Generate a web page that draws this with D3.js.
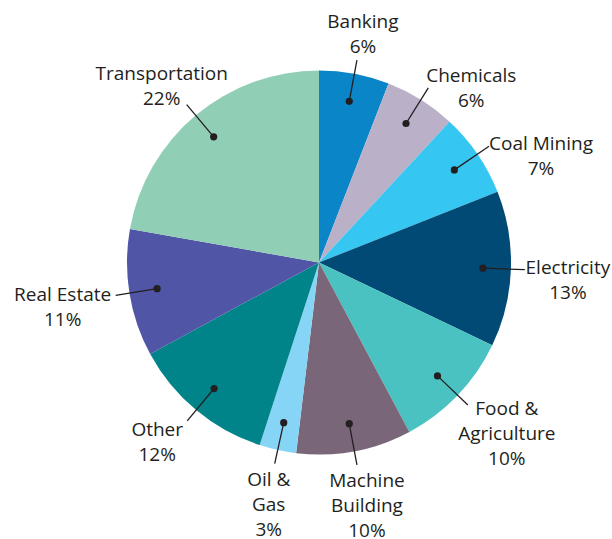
<!DOCTYPE html>
<html>
<head>
<meta charset="utf-8">
<script src="https://cdn.jsdelivr.net/npm/d3@7"></script>
<style>
  body { margin: 0; background: #fff; }
  text { font-family: "Open Sans", sans-serif; font-size: 19px; fill: #231f20; }
</style>
</head>
<body>
<svg id="chart" width="612" height="539"></svg>
<script>
// sectors, clockwise from 12 o'clock
const sectors = ['Banking', 'Chemicals', 'Coal Mining', 'Electricity', 'Food & Agriculture',
  'Machine Building', 'Oil & Gas', 'Other', 'Real Estate', 'Transportation'];
const labelLines = [['Banking'], ['Chemicals'], ['Coal Mining'], ['Electricity'], ['Food &', 'Agriculture'],
  ['Machine', 'Building'], ['Oil &', 'Gas'], ['Other'], ['Real Estate'], ['Transportation']];
const shares = [5.9, 6.0, 7.1, 13.1, 10.1, 9.7, 3.1, 12.1, 10.7, 22.2];

const colors = ['#0a85c8', '#bab0c7', '#35c6f1', '#004a75', '#4ac2c1',
  '#7a6679', '#86d5f6', '#00848a', '#5055a6', '#90cfb6'];
// label block offset (centre x, first baseline) from the end of the leader line
const labelOffset = [[6, -32], [43, -6], [52, 4], [43, 4], [39, 10],
  [10, 22], [-6, 22], [-30, 15], [-53, 6], [-25, -25]];

const width = 612, height = 539;
const cx = 319, cy = 262.5, radius = 192;
const dotR = 164, lineR = 206, lineH = 25;

const svg = d3.select('#chart');
const g = svg.append('g').attr('transform', `translate(${cx},${cy})`);

const data = sectors.map((s, i) => ({name: s, value: shares[i], i: i}));
const pie = d3.pie().value(d => d.value).sort(null);
const arc = d3.arc().innerRadius(0).outerRadius(radius);
const arcs = pie(data);

g.selectAll('path.slice')
  .data(arcs)
  .enter().append('path')
  .attr('class', 'slice')
  .attr('d', arc)
  .attr('fill', d => colors[d.data.i]);

function polar(a, r) {
  return [r * Math.sin(a), -r * Math.cos(a)];
}

const lbl = g.selectAll('g.label')
  .data(arcs)
  .enter().append('g')
  .attr('class', 'label');

lbl.each(function (d) {
  const a = (d.startAngle + d.endAngle) / 2;
  const p0 = polar(a, dotR), p1 = polar(a, lineR);
  const el = d3.select(this);
  el.append('line')
    .attr('x1', p0[0]).attr('y1', p0[1])
    .attr('x2', p1[0]).attr('y2', p1[1])
    .attr('stroke', '#231f20').attr('stroke-width', 1.3);
  el.append('circle')
    .attr('cx', p0[0]).attr('cy', p0[1]).attr('r', 3.6)
    .attr('fill', '#231f20');
  const off = labelOffset[d.data.i];
  const lines = labelLines[d.data.i].concat([Math.round(d.data.value) + '%']);
  const t = el.append('text')
    .attr('text-anchor', 'middle')
    .attr('x', p1[0] + off[0])
    .attr('y', p1[1] + off[1]);
  lines.forEach((s, k) => {
    t.append('tspan')
      .attr('x', p1[0] + off[0])
      .attr('y', p1[1] + off[1] + k * lineH)
      .text(s);
  });
});
</script>
</body>
</html>
